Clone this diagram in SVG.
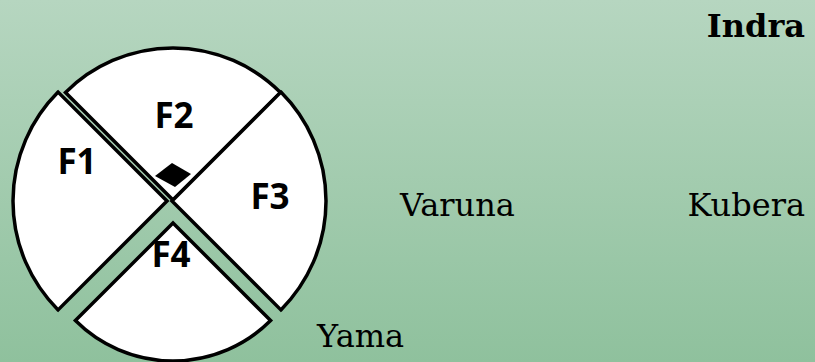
<svg xmlns="http://www.w3.org/2000/svg" width="815" height="362" viewBox="0 0 815 362">
  <defs>
    <linearGradient id="bg" x1="0" y1="0" x2="0" y2="1">
      <stop offset="0" stop-color="#b6d6c0"/>
      <stop offset="1" stop-color="#8fc19d"/>
    </linearGradient>
    <style>
      .sector { fill: #ffffff; stroke: #000000; stroke-width: 3.5; stroke-linejoin: miter; }
      .flabel { font-family: "Open Sans", "Noto Sans", sans-serif; font-weight: 700; font-size: 35px; fill: #000000; text-anchor: middle; }
      .dir { font-family: "DejaVu Serif", "Liberation Serif", serif; font-size: 32px; fill: #000000; }
    </style>
  </defs>

  <rect x="0" y="0" width="815" height="362" fill="url(#bg)"/>

  <!-- four quarter sectors of the plot -->
  <g id="F1">
    <path class="sector" d="M167,201 L58.1,92.1 A154,154 0 0 0 58.1,309.9 Z"/>
    <text class="flabel" x="77" y="174">F1</text>
  </g>
  <g id="F2">
    <path class="sector" d="M173,200 L65.5,92.5 A152,152 0 0 1 280.5,92.5 Z"/>
    <text class="flabel" x="174" y="128">F2</text>
  </g>
  <g id="F3">
    <path class="sector" d="M172,201 L280.9,92.1 A154,154 0 0 1 280.9,309.9 Z"/>
    <text class="flabel" x="270" y="209">F3</text>
  </g>
  <g id="F4">
    <path class="sector" d="M173,223 L270.6,320.6 A138,138 0 0 1 75.4,320.6 Z"/>
    <text class="flabel" x="171" y="267">F4</text>
  </g>

  <!-- marker at the centre -->
  <g id="marker">
    <polygon points="172,163 191,174 175,187 155,176" fill="#000000"/>
  </g>

  <!-- direction names -->
  <g id="Indra"><text class="dir" x="805" y="37" text-anchor="end" font-weight="bold">Indra</text></g>
  <g id="Varuna"><text class="dir" x="400" y="216">Varuna</text></g>
  <g id="Kubera"><text class="dir" x="805" y="216" text-anchor="end">Kubera</text></g>
  <g id="Yama"><text class="dir" x="317" y="347">Yama</text></g>
</svg>
